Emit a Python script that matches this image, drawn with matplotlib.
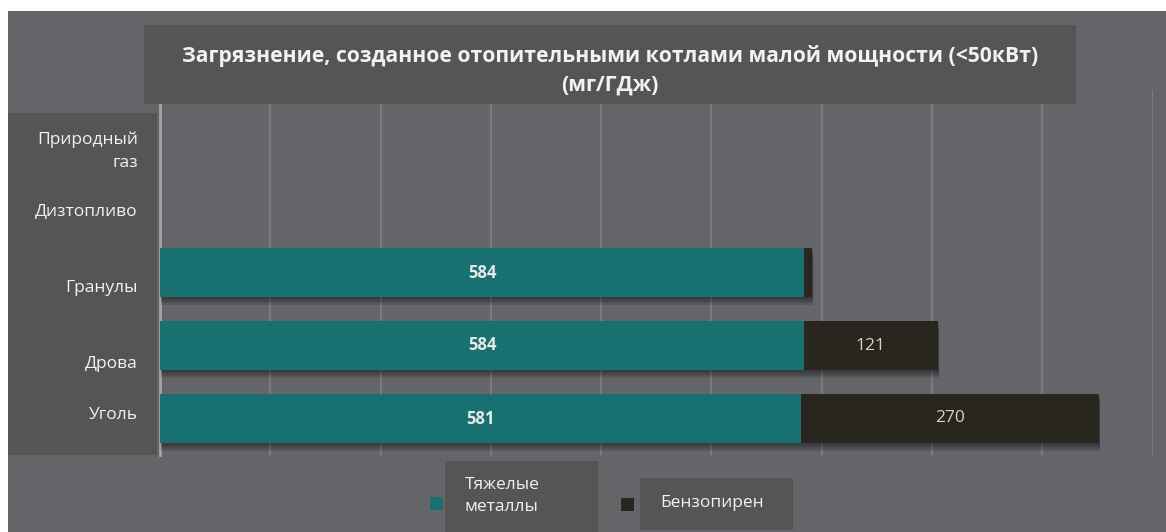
import matplotlib
matplotlib.use("Agg")
import matplotlib.pyplot as plt
from matplotlib.patches import Rectangle
import matplotlib.patheffects as pe
from matplotlib.transforms import ScaledTranslation

categories = ["Природный\nгаз", "Дизтопливо", "Гранулы", "Дрова", "Уголь"]
heavy_metals = [0, 0, 584, 584, 581]
benzopyrene = [0, 0, 7, 121, 270]
series_names = ["Тяжелые\nметаллы", "Бензопирен"]
title = "Загрязнение, созданное отопительными котлами малой мощности (<50кВт)\n(мг/ГДж)"

W, H = 1166, 532
BG = "#646569"
BOX = "#555555"
TEAL = "#187070"
DARK = "#29261f"
TXT = "#f2f2f2"
FONT = "Open Sans"

fig = plt.figure(figsize=(W / 100, H / 100), dpi=100, facecolor=BG)

def px_rect(x0, y0, x1, y1, color, z):
    r = Rectangle((x0 / W, 1 - y1 / H), (x1 - x0) / W, (y1 - y0) / H,
                  transform=fig.transFigure, facecolor=color, edgecolor="none", zorder=z)
    fig.patches.append(r)
    return r

# white margins
px_rect(0, 0, W, 11, "white", 5)
px_rect(0, 0, 8, H, "white", 5)

ax = fig.add_axes([160 / W, 1 - 455 / H, (1152.6 - 160) / W, (455 - 90) / H])
ax.set_facecolor(BG)
ax.set_zorder(0)

ypos = list(range(len(categories)))[::-1]
shadow = [pe.SimplePatchShadow(offset=(1, -d), shadow_rgbFace="black", alpha=0.12)
          for d in (6, 4.5, 3, 1.5)] + [pe.Normal()]
b1 = ax.barh(ypos, heavy_metals, height=0.66, color=TEAL, zorder=3, path_effects=shadow)
b2 = ax.barh(ypos, benzopyrene, left=heavy_metals, height=0.66, color=DARK, zorder=3,
             path_effects=shadow)

for y, h, b in zip(ypos, heavy_metals, benzopyrene):
    if h > 0:
        ax.text(h / 2, y, f"{h}", ha="center", va="center", color="#e8e8e8",
                fontsize=12, fontweight="bold", family=FONT, zorder=5)
    if b > 50:
        ax.text(h + b / 2, y, f"{b}", ha="center", va="center", color="#d9d3c6",
                fontsize=12.5, family=FONT, zorder=5)

ax.set_xlim(0, 900)
ax.set_ylim(-0.5, len(categories) - 0.5)
ax.set_xticks(range(0, 901, 100))
ax.xaxis.grid(True, color="#7b7b7f", linewidth=1.6)
ax.set_axisbelow(True)
ax.tick_params(axis="x", length=0, labelbottom=False)
ax.tick_params(axis="y", length=0, pad=16, labelsize=12.5, labelcolor=TXT)
ax.set_yticks(ypos)
ax.set_yticklabels(categories, family=FONT)
for s in ["top", "right", "bottom"]:
    ax.spines[s].set_visible(False)
ax.spines["left"].set_color("#a8a39e")
ax.spines["left"].set_linewidth(2)

# shift tick labels slightly as in the reference (points, categories order)
offsets = [-14, -7, -10, -12, 4]
for lbl, off in zip(ax.get_yticklabels(), offsets):
    lbl.set_transform(lbl.get_transform() + ScaledTranslation(0, off / 72, fig.dpi_scale_trans))
    lbl.set_ha("right")
    lbl.set_multialignment("right")
    lbl.set_linespacing(1.6)

# y-label box (behind labels)
px_rect(7, 113, 157, 455, BOX, -1)

# title box over gridlines
px_rect(144, 25, 1076, 104, BOX, 2)
fig.text(610 / W, 1 - 70 / H, title, ha="center", va="center", color=TXT,
         fontsize=15.2, fontweight="bold", family=FONT, zorder=6, linespacing=1.45)

# legend
px_rect(445, 461, 598, H, BOX, 2)
px_rect(640, 478, 793, 530, BOX, 2)
px_rect(430, 497, 443, 510, TEAL, 3)
px_rect(621, 498, 634, 511, DARK, 3)
fig.text(465 / W, 1 - 496 / H, series_names[0], ha="left", va="center", color=TXT,
         fontsize=12.5, family=FONT, zorder=6, linespacing=1.5)
fig.text(660 / W, 1 - 503 / H, series_names[1], ha="left", va="center", color=TXT,
         fontsize=12.5, family=FONT, zorder=6)

fig.savefig("out.png", dpi=100, facecolor=BG)
